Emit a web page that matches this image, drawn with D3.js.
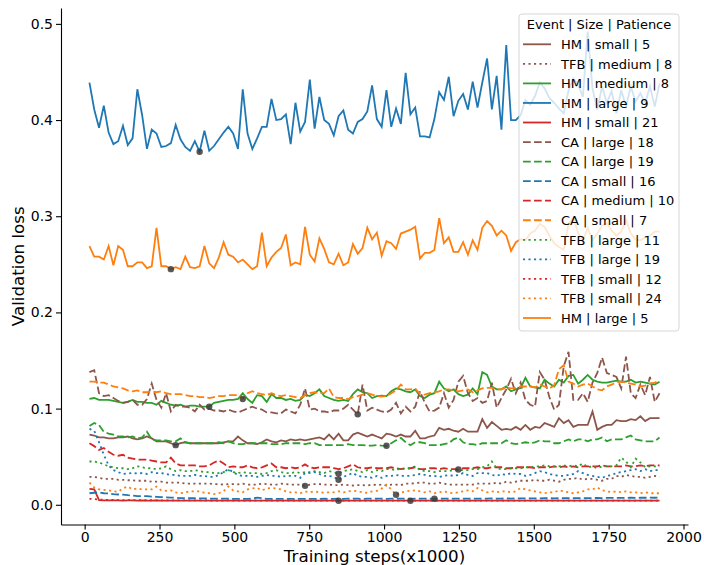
<!DOCTYPE html>
<html>
<head>
<meta charset="utf-8">
<script src="https://cdn.jsdelivr.net/npm/d3@7"></script>
<style>
  body { margin: 0; background: #fff; }
  text { font-family: "DejaVu Sans", sans-serif; }
</style>
</head>
<body>
<svg id="chart" width="704" height="565"></svg>
<script>
// training steps (x1000), one checkpoint every 16k steps
const steps = d3.range(16, 1921, 16);
const xTicks = [0, 250, 500, 750, 1000, 1250, 1500, 1750, 2000];
const yTicks = [0.0, 0.1, 0.2, 0.3, 0.4, 0.5];

const hmSmall5 = [0.073,0.072,0.070,0.070,0.069,0.069,0.070,0.070,0.071,0.069,0.068,0.069,0.071,0.069,0.066,0.066,0.066,0.064,0.062,0.064,0.065,0.064,0.064,0.064,
  0.064,0.064,0.064,0.064,0.065,0.066,0.066,0.071,0.067,0.064,0.064,0.063,0.065,0.068,0.066,0.065,0.067,0.066,0.068,0.067,0.068,0.067,0.068,0.069,
  0.070,0.068,0.073,0.068,0.074,0.067,0.067,0.073,0.075,0.073,0.071,0.073,0.071,0.069,0.074,0.073,0.071,0.073,0.071,0.071,0.077,0.069,0.069,0.071,
  0.072,0.080,0.078,0.079,0.077,0.076,0.079,0.076,0.076,0.076,0.089,0.080,0.086,0.082,0.078,0.079,0.078,0.081,0.078,0.083,0.078,0.081,0.080,0.085,
  0.083,0.081,0.090,0.085,0.088,0.081,0.083,0.083,0.083,0.097,0.078,0.081,0.083,0.083,0.088,0.087,0.087,0.089,0.088,0.092,0.087,0.090,0.090,0.090];

const tfbMedium8 = [0.029,0.029,0.028,0.027,0.027,0.027,0.026,0.026,0.0255,0.0255,0.025,0.025,0.025,0.024,0.024,0.024,0.023,0.023,0.023,0.023,0.022,0.022,0.022,0.022,
  0.022,0.022,0.0215,0.0215,0.021,0.0215,0.0215,0.0212,0.022,0.021,0.021,0.021,0.022,0.0215,0.021,0.021,0.022,0.0215,0.021,0.021,0.021,0.0197,0.021,0.0215,
  0.0215,0.021,0.021,0.0205,0.0205,0.021,0.0205,0.020,0.0205,0.0205,0.020,0.021,0.0205,0.021,0.020,0.021,0.021,0.0205,0.022,0.022,0.0225,0.023,0.023,0.022,
  0.022,0.023,0.022,0.021,0.021,0.021,0.021,0.021,0.021,0.022,0.022,0.022,0.022,0.023,0.022,0.024,0.023,0.024,0.025,0.025,0.025,0.026,0.025,0.025,
  0.026,0.025,0.024,0.026,0.027,0.027,0.028,0.026,0.027,0.027,0.026,0.025,0.027,0.027,0.030,0.029,0.031,0.030,0.029,0.029,0.028,0.029,0.030,0.029];

const hmMedium8 = [0.110,0.111,0.109,0.109,0.109,0.108,0.107,0.106,0.107,0.109,0.107,0.107,0.106,0.106,0.104,0.108,0.106,0.104,0.103,0.104,0.102,0.103,0.103,0.102,
  0.102,0.102,0.106,0.107,0.108,0.109,0.109,0.110,0.116,0.110,0.106,0.114,0.113,0.107,0.115,0.111,0.111,0.109,0.110,0.108,0.109,0.1145,0.113,0.116,
  0.120,0.113,0.111,0.109,0.108,0.109,0.108,0.115,0.120,0.117,0.116,0.111,0.113,0.1135,0.113,0.118,0.121,0.120,0.118,0.117,0.120,0.113,0.111,0.1145,
  0.116,0.128,0.121,0.118,0.120,0.115,0.113,0.1145,0.121,0.115,0.138,0.135,0.123,0.120,0.120,0.123,0.118,0.120,0.1215,0.132,0.123,0.122,0.121,0.130,
  0.126,0.123,0.130,0.127,0.134,0.135,0.126,0.130,0.135,0.130,0.128,0.127,0.127,0.128,0.129,0.128,0.128,0.130,0.127,0.128,0.127,0.126,0.125,0.128];

const hmLarge9 = [0.439,0.411,0.392,0.415,0.387,0.375,0.378,0.394,0.374,0.381,0.432,0.405,0.370,0.390,0.386,0.372,0.373,0.376,0.395,0.380,0.372,0.368,0.378,0.367,
  0.389,0.368,0.373,0.380,0.387,0.393,0.386,0.370,0.432,0.386,0.370,0.381,0.393,0.393,0.422,0.400,0.401,0.406,0.375,0.418,0.388,0.398,0.442,0.391,
  0.424,0.400,0.396,0.384,0.404,0.410,0.390,0.386,0.398,0.401,0.409,0.436,0.401,0.393,0.431,0.393,0.412,0.396,0.449,0.406,0.413,0.383,0.383,0.382,
  0.401,0.429,0.421,0.445,0.404,0.420,0.427,0.411,0.440,0.413,0.439,0.464,0.411,0.446,0.390,0.478,0.400,0.400,0.405,0.421,0.416,0.425,0.439,0.433,
  0.423,0.418,0.412,0.407,0.431,0.443,0.437,0.424,0.492,0.433,0.411,0.435,0.418,0.430,0.407,0.431,0.414,0.435,0.419,0.428,0.418,0.435,0.414,0.438];

const hmSmall21 = [0.0165,0.016,0.0048,0.0046,0.0045,0.0045,0.0045,0.0044,0.0045,0.0045,0.0044,0.0045,0.0044,0.0044,0.0045,0.0044,0.0044,0.0044,0.0043,0.0044,0.0044,0.0043,0.0044,0.0043,
  0.0043,0.0044,0.0043,0.0043,0.0044,0.0043,0.0043,0.0043,0.0044,0.0043,0.0043,0.0043,0.0043,0.0044,0.0043,0.0043,0.0043,0.0043,0.0043,0.0044,0.0043,0.0043,0.0043,0.0043,
  0.0043,0.0043,0.0043,0.0043,0.0042,0.0043,0.0043,0.0043,0.0043,0.0044,0.0043,0.0043,0.0043,0.0043,0.0043,0.0043,0.0044,0.0043,0.0043,0.0043,0.0043,0.0043,0.0043,0.0043,
  0.0043,0.0043,0.0044,0.0043,0.0043,0.0043,0.0043,0.0043,0.0043,0.0043,0.0044,0.0043,0.0043,0.0043,0.0043,0.0043,0.0043,0.0044,0.0043,0.0043,0.0043,0.0043,0.0043,0.0043,
  0.0043,0.0043,0.0043,0.0044,0.0043,0.0043,0.0043,0.0043,0.0043,0.0043,0.0043,0.0044,0.0043,0.0043,0.0043,0.0043,0.0043,0.0043,0.0044,0.0043,0.0043,0.0043,0.0043,0.0043];

const caLarge18 = [0.138,0.140,0.116,0.113,0.114,0.111,0.108,0.106,0.107,0.109,0.104,0.104,0.110,0.126,0.109,0.101,0.116,0.097,0.104,0.102,0.102,0.101,0.097,0.104,
  0.099,0.100,0.098,0.098,0.097,0.099,0.097,0.096,0.098,0.100,0.102,0.100,0.099,0.096,0.096,0.095,0.095,0.099,0.097,0.095,0.104,0.121,0.099,0.100,
  0.097,0.097,0.096,0.098,0.098,0.100,0.104,0.099,0.094,0.125,0.098,0.101,0.099,0.097,0.096,0.099,0.106,0.095,0.102,0.097,0.102,0.118,0.106,0.097,
  0.098,0.101,0.116,0.101,0.109,0.128,0.134,0.116,0.108,0.111,0.106,0.108,0.127,0.101,0.111,0.120,0.131,0.116,0.127,0.109,0.104,0.102,0.138,0.130,
  0.112,0.099,0.104,0.144,0.159,0.109,0.109,0.116,0.107,0.127,0.137,0.153,0.137,0.135,0.133,0.121,0.154,0.116,0.111,0.125,0.114,0.133,0.107,0.116];

const caLarge19 = [0.082,0.085,0.083,0.076,0.074,0.073,0.071,0.071,0.070,0.071,0.069,0.070,0.076,0.068,0.067,0.067,0.067,0.066,0.066,0.069,0.065,0.064,0.064,0.064,
  0.064,0.064,0.064,0.065,0.064,0.066,0.064,0.063,0.063,0.064,0.064,0.064,0.064,0.064,0.063,0.063,0.063,0.064,0.064,0.064,0.064,0.063,0.064,0.064,
  0.062,0.062,0.062,0.062,0.062,0.062,0.063,0.062,0.062,0.062,0.0615,0.0615,0.062,0.0615,0.0613,0.064,0.067,0.0695,0.065,0.062,0.065,0.065,0.064,0.062,
  0.062,0.062,0.063,0.064,0.068,0.070,0.065,0.063,0.063,0.062,0.064,0.064,0.064,0.064,0.064,0.067,0.064,0.063,0.064,0.065,0.064,0.065,0.067,0.066,
  0.066,0.064,0.064,0.066,0.068,0.066,0.068,0.068,0.066,0.068,0.068,0.070,0.066,0.068,0.068,0.068,0.070,0.072,0.068,0.067,0.066,0.066,0.066,0.070];

const caSmall16 = [0.012,0.0125,0.013,0.012,0.0118,0.011,0.0107,0.0105,0.010,0.0097,0.009,0.009,0.009,0.0085,0.0083,0.008,0.0077,0.0075,0.0073,0.007,0.007,0.0068,0.0068,0.0066,
  0.0066,0.0065,0.0064,0.0064,0.0063,0.0063,0.0062,0.0062,0.0062,0.0062,0.0064,0.0075,0.0068,0.0062,0.0062,0.0061,0.0061,0.0062,0.0061,0.0061,0.0062,0.0061,0.0061,0.0062,
  0.0062,0.0063,0.0062,0.0062,0.0063,0.0062,0.0063,0.0064,0.0063,0.0062,0.0063,0.0064,0.0063,0.0063,0.0062,0.0063,0.0064,0.0063,0.0063,0.0062,0.0063,0.0064,0.0063,0.0063,
  0.0062,0.0063,0.0064,0.0064,0.0063,0.0064,0.0065,0.0064,0.0064,0.0065,0.0064,0.0065,0.0066,0.0065,0.0065,0.0066,0.0065,0.0066,0.0066,0.0067,0.0066,0.0066,0.0067,0.0068,
  0.0068,0.0067,0.0068,0.0069,0.0068,0.0069,0.0069,0.0070,0.0069,0.0070,0.0071,0.0070,0.0071,0.0071,0.0072,0.0071,0.0072,0.0073,0.0072,0.0073,0.0073,0.0074,0.0073,0.0074];

const caMedium10 = [0.064,0.061,0.057,0.059,0.055,0.052,0.051,0.052,0.049,0.048,0.047,0.047,0.047,0.046,0.045,0.044,0.044,0.049,0.043,0.041,0.041,0.041,0.041,0.040,
  0.040,0.041,0.044,0.046,0.043,0.039,0.040,0.039,0.039,0.041,0.039,0.038,0.039,0.041,0.043,0.039,0.039,0.038,0.039,0.038,0.039,0.042,0.039,0.038,
  0.039,0.039,0.039,0.038,0.037,0.038,0.040,0.042,0.039,0.038,0.038,0.039,0.038,0.038,0.038,0.039,0.038,0.037,0.038,0.038,0.039,0.037,0.037,0.038,
  0.038,0.037,0.038,0.037,0.037,0.0367,0.038,0.038,0.038,0.039,0.038,0.038,0.039,0.039,0.039,0.038,0.038,0.039,0.039,0.039,0.039,0.038,0.039,0.039,
  0.039,0.040,0.039,0.040,0.039,0.040,0.039,0.040,0.040,0.040,0.040,0.041,0.040,0.040,0.040,0.040,0.041,0.040,0.040,0.041,0.040,0.041,0.041,0.041];

const caSmall7 = [0.128,0.128,0.127,0.127,0.125,0.123,0.122,0.121,0.119,0.118,0.119,0.117,0.117,0.118,0.117,0.118,0.116,0.115,0.115,0.115,0.114,0.113,0.113,0.112,
  0.112,0.111,0.112,0.113,0.113,0.114,0.114,0.114,0.110,0.116,0.118,0.116,0.115,0.114,0.116,0.114,0.113,0.114,0.113,0.112,0.111,0.114,0.116,0.117,
  0.116,0.116,0.121,0.112,0.111,0.111,0.110,0.112,0.113,0.1145,0.116,0.1145,0.113,0.1125,0.113,0.116,0.119,0.125,0.120,0.120,0.121,0.115,0.1145,0.116,
  0.117,0.118,0.120,0.120,0.119,0.118,0.119,0.120,0.117,0.119,0.121,0.1215,0.1215,0.120,0.120,0.122,0.121,0.1215,0.123,0.123,0.123,0.122,0.125,0.123,
  0.121,0.124,0.141,0.145,0.128,0.126,0.123,0.125,0.126,0.123,0.120,0.119,0.123,0.125,0.127,0.128,0.127,0.126,0.125,0.123,0.124,0.126,0.127,0.129];

const tfbLarge11 = [0.045,0.045,0.044,0.042,0.040,0.039,0.038,0.038,0.037,0.038,0.040,0.039,0.038,0.038,0.037,0.038,0.040,0.037,0.035,0.036,0.035,0.035,0.036,0.035,
  0.034,0.034,0.033,0.033,0.034,0.036,0.034,0.033,0.034,0.033,0.033,0.033,0.032,0.033,0.035,0.036,0.034,0.033,0.033,0.034,0.033,0.034,0.033,0.035,
  0.034,0.033,0.035,0.034,0.0323,0.035,0.036,0.037,0.035,0.034,0.036,0.034,0.036,0.035,0.037,0.037,0.036,0.038,0.037,0.038,0.040,0.036,0.035,0.035,
  0.034,0.035,0.035,0.035,0.036,0.036,0.036,0.036,0.037,0.037,0.039,0.040,0.045,0.038,0.037,0.037,0.038,0.038,0.038,0.039,0.039,0.040,0.040,0.041,
  0.040,0.040,0.040,0.041,0.040,0.041,0.040,0.043,0.039,0.040,0.038,0.040,0.040,0.040,0.041,0.049,0.045,0.039,0.048,0.044,0.039,0.040,0.040,0.040];

const tfbLarge19 = [0.079,0.077,0.065,0.052,0.041,0.036,0.034,0.032,0.0325,0.033,0.0325,0.033,0.032,0.034,0.033,0.033,0.032,0.031,0.031,0.030,0.030,0.030,0.031,0.030,
  0.030,0.029,0.029,0.031,0.034,0.037,0.034,0.031,0.030,0.030,0.030,0.029,0.030,0.031,0.030,0.030,0.029,0.030,0.030,0.030,0.028,0.033,0.034,0.034,
  0.032,0.030,0.030,0.029,0.026,0.029,0.031,0.033,0.030,0.029,0.029,0.028,0.030,0.028,0.030,0.030,0.031,0.030,0.030,0.030,0.031,0.032,0.031,0.030,
  0.030,0.029,0.030,0.031,0.030,0.031,0.033,0.031,0.030,0.033,0.033,0.033,0.031,0.030,0.032,0.031,0.033,0.032,0.032,0.030,0.031,0.033,0.035,0.034,
  0.032,0.031,0.030,0.030,0.031,0.032,0.035,0.033,0.031,0.030,0.029,0.028,0.030,0.031,0.033,0.034,0.035,0.036,0.037,0.035,0.037,0.035,0.036,0.036];

const tfbSmall12 = [0.0062,0.006,0.0055,0.0052,0.005,0.005,0.0049,0.0049,0.0048,0.0048,0.0048,0.0047,0.0047,0.0047,0.0046,0.0046,0.0046,0.0046,0.0045,0.0045,0.0045,0.0045,0.0045,0.0045,
  0.0045,0.0044,0.0045,0.0044,0.0044,0.0045,0.0044,0.0044,0.0044,0.0044,0.0045,0.0044,0.0044,0.0044,0.0044,0.0044,0.0044,0.0044,0.0045,0.0044,0.0044,0.0044,0.0044,0.0044,
  0.0044,0.0044,0.0044,0.0044,0.0044,0.0044,0.0044,0.0043,0.0044,0.0044,0.0044,0.0043,0.0044,0.0044,0.0043,0.0044,0.0044,0.0043,0.0044,0.0042,0.0043,0.0044,0.0043,0.0043,
  0.0043,0.0044,0.0043,0.0043,0.0044,0.0043,0.0043,0.0043,0.0044,0.0043,0.0043,0.0044,0.0043,0.0043,0.0043,0.0044,0.0043,0.0043,0.0043,0.0044,0.0043,0.0043,0.0044,0.0043,
  0.0043,0.0044,0.0043,0.0043,0.0043,0.0044,0.0043,0.0043,0.0044,0.0043,0.0043,0.0043,0.0044,0.0043,0.0043,0.0044,0.0043,0.0043,0.0043,0.0044,0.0043,0.0043,0.0044,0.0043];

const tfbSmall24 = [0.023,0.018,0.016,0.0155,0.015,0.014,0.0135,0.017,0.019,0.016,0.017,0.016,0.016,0.016,0.019,0.015,0.0145,0.015,0.013,0.012,0.013,0.014,0.014,0.014,
  0.0125,0.012,0.011,0.012,0.014,0.019,0.015,0.014,0.013,0.016,0.017,0.0175,0.015,0.017,0.0175,0.017,0.016,0.014,0.013,0.013,0.012,0.014,0.013,0.014,
  0.013,0.0125,0.013,0.013,0.014,0.013,0.014,0.0145,0.014,0.013,0.0125,0.014,0.0145,0.017,0.021,0.016,0.0104,0.0125,0.014,0.0145,0.015,0.014,0.013,0.014,
  0.012,0.013,0.014,0.0125,0.012,0.013,0.014,0.015,0.014,0.0175,0.015,0.013,0.014,0.013,0.014,0.014,0.013,0.014,0.0175,0.016,0.015,0.014,0.013,0.012,
  0.013,0.013,0.015,0.014,0.013,0.012,0.013,0.014,0.016,0.016,0.018,0.015,0.014,0.013,0.014,0.013,0.014,0.013,0.013,0.012,0.013,0.012,0.012,0.012];

const hmLarge5 = [0.269,0.258,0.258,0.255,0.269,0.249,0.269,0.265,0.248,0.248,0.252,0.252,0.246,0.248,0.288,0.248,0.248,0.245,0.247,0.245,0.258,0.247,0.246,0.248,
  0.269,0.251,0.246,0.257,0.273,0.260,0.258,0.252,0.255,0.250,0.245,0.248,0.283,0.248,0.257,0.263,0.267,0.281,0.249,0.252,0.250,0.289,0.260,0.253,
  0.277,0.266,0.252,0.250,0.261,0.249,0.252,0.271,0.261,0.267,0.288,0.276,0.283,0.259,0.274,0.272,0.266,0.282,0.284,0.286,0.289,0.256,0.262,0.262,
  0.265,0.298,0.272,0.278,0.263,0.263,0.273,0.260,0.275,0.265,0.288,0.295,0.290,0.280,0.285,0.280,0.264,0.273,0.276,0.275,0.282,0.285,0.292,0.289,
  0.280,0.272,0.268,0.265,0.292,0.298,0.283,0.274,0.288,0.275,0.282,0.290,0.293,0.285,0.280,0.284,0.296,0.282,0.276,0.275,0.278,0.280,0.284,0.284];

// legend order = draw order
const seriesLabels = ["HM | small | 5", "TFB | medium | 8", "HM | medium | 8", "HM | large | 9", "HM | small | 21",
  "CA | large | 18", "CA | large | 19", "CA | small | 16", "CA | medium | 10", "CA | small | 7",
  "TFB | large | 11", "TFB | large | 19", "TFB | small | 12", "TFB | small | 24", "HM | large | 5"];
const seriesValues = [hmSmall5, tfbMedium8, hmMedium8, hmLarge9, hmSmall21,
  caLarge18, caLarge19, caSmall16, caMedium10, caSmall7,
  tfbLarge11, tfbLarge19, tfbSmall12, tfbSmall24, hmLarge5];
const seriesColors = ["#8c564b", "#8c564b", "#2ca02c", "#1f77b4", "#d62728",
  "#8c564b", "#2ca02c", "#1f77b4", "#d62728", "#ff7f0e",
  "#2ca02c", "#1f77b4", "#d62728", "#ff7f0e", "#ff7f0e"];
const seriesStyles = ["solid", "dotted", "solid", "solid", "solid",
  "dashed", "dashed", "dashed", "dashed", "dashed",
  "dotted", "dotted", "dotted", "dotted", "solid"];

// best checkpoint of each run
const markerSeries = ["HM | large | 9", "HM | large | 5", "HM | small | 5", "CA | large | 19", "CA | large | 18",
  "HM | medium | 8", "CA | small | 7", "TFB | medium | 8", "TFB | large | 11", "TFB | large | 19",
  "HM | small | 21", "CA | medium | 10", "TFB | small | 24", "TFB | small | 12", "CA | small | 16"];
const markerSteps = [384, 288, 304, 1008, 912, 416, 528, 736, 848, 848, 848, 1248, 1040, 1088, 1168];

const dashes = { solid: null, dashed: "7.7,3.3", dotted: "2.1,3.4" };

const width = 704, height = 565;
const margin = { top: 8, right: 16, bottom: 40.5, left: 61 };

const svg = d3.select("#chart");

const x = d3.scaleLinear().domain([-79, 2015]).range([margin.left, width - margin.right]);
const y = d3.scaleLinear().domain([-0.0205, 0.5165]).range([height - margin.bottom, margin.top]);

const series = seriesLabels.map((label, i) => ({
  label: label,
  color: seriesColors[i],
  dash: dashes[seriesStyles[i]],
  points: steps.map((s, j) => ({ step: s, loss: seriesValues[i][j] }))
}));

const line = d3.line().x(d => x(d.step)).y(d => y(d.loss));

svg.append("g").selectAll("path").data(series).enter()
  .append("path")
  .attr("d", d => line(d.points))
  .attr("fill", "none")
  .attr("stroke", d => d.color)
  .attr("stroke-width", 1.8)
  .attr("stroke-dasharray", d => d.dash);

// markers
const markers = markerSeries.map((lab, i) => {
  const s = series.find(d => d.label === lab);
  return s.points.find(d => d.step === markerSteps[i]);
});
svg.append("g").selectAll("circle").data(markers).enter()
  .append("circle")
  .attr("cx", d => x(d.step))
  .attr("cy", d => y(d.loss))
  .attr("r", 3.2)
  .attr("fill", "#3c3c3c")
  .attr("fill-opacity", 0.85);

// axes
const xAxis = d3.axisBottom(x).tickValues(xTicks).tickFormat(d3.format("d"))
  .tickSize(5).tickPadding(3).tickSizeOuter(0);
const yAxis = d3.axisLeft(y).tickValues(yTicks).tickFormat(d3.format(".1f"))
  .tickSize(5).tickPadding(3).tickSizeOuter(0);

const gx = svg.append("g").attr("transform", `translate(0,${height - margin.bottom})`).call(xAxis);
const gy = svg.append("g").attr("transform", `translate(${margin.left},0)`).call(yAxis);
[gx, gy].forEach(g => {
  g.select(".domain").attr("stroke", "#000").attr("stroke-width", 1.1);
  g.selectAll(".tick line").attr("stroke", "#000").attr("stroke-width", 1.1);
  g.selectAll(".tick text").attr("fill", "#000").style("font-size", "14px")
    .style("font-family", "'DejaVu Sans', sans-serif");
});

svg.append("text")
  .attr("x", (margin.left + width - margin.right) / 2)
  .attr("y", 562)
  .attr("text-anchor", "middle")
  .style("font-size", "16.7px")
  .text("Training steps(x1000)");

svg.append("text")
  .attr("transform", `translate(24,${(margin.top + height - margin.bottom) / 2}) rotate(-90)`)
  .attr("text-anchor", "middle")
  .style("font-size", "16.7px")
  .text("Validation loss");

// legend
const legend = svg.append("g").attr("transform", "translate(519,14)");
legend.append("rect")
  .attr("width", 160).attr("height", 317).attr("rx", 3)
  .attr("fill", "#fff").attr("fill-opacity", 0.8)
  .attr("stroke", "#cccccc").attr("stroke-opacity", 0.8);
legend.append("text")
  .attr("x", 80).attr("y", 14.5)
  .attr("text-anchor", "middle")
  .style("font-size", "13px")
  .text("Event | Size | Patience");

const item = legend.selectAll(".item").data(series).enter()
  .append("g").attr("class", "item")
  .attr("transform", (d, i) => `translate(0,${30.3 + i * 19.55})`);
item.append("line")
  .attr("x1", 4).attr("x2", 32)
  .attr("stroke", d => d.color)
  .attr("stroke-width", 1.8)
  .attr("stroke-dasharray", d => d.dash);
item.append("text")
  .attr("x", 42).attr("y", 4.7)
  .style("font-size", "13px")
  .text(d => d.label);
</script>
</body>
</html>
